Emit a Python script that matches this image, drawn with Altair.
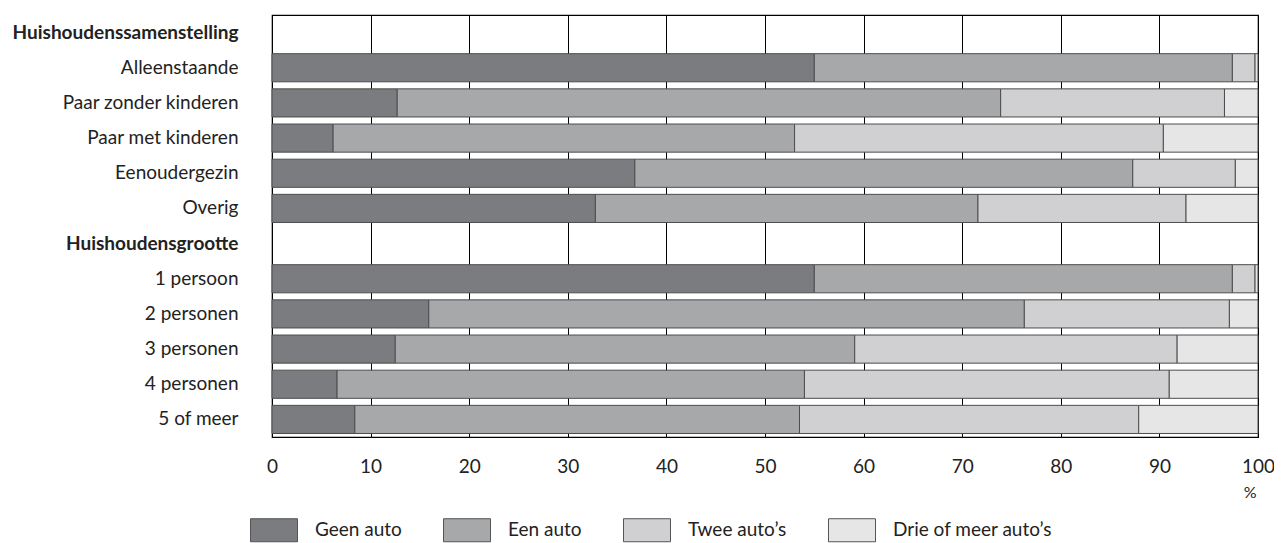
import altair as alt
import pandas as pd

categories = ["Huishoudenssamenstelling", "Alleenstaande", "Paar zonder kinderen",
              "Paar met kinderen", "Eenoudergezin", "Overig", "Huishoudensgrootte",
              "1 persoon", "2 personen", "3 personen", "4 personen", "5 of meer"]
headers = ["Huishoudenssamenstelling", "Huishoudensgrootte"]
series = ["Geen auto", "Een auto", "Twee auto\u2019s", "Drie of meer auto\u2019s"]
colors = ["#7b7c80", "#a7a8aa", "#d0d0d2", "#e6e6e7"]

geen = [55.0, 12.7, 6.2, 36.8, 32.8, 55.0, 15.9, 12.5, 6.6, 8.4]
een = [42.4, 61.2, 46.8, 50.5, 38.8, 42.4, 60.4, 46.6, 47.4, 45.1]
twee = [2.3, 22.7, 37.4, 10.4, 21.1, 2.3, 20.8, 32.7, 37.0, 34.4]
drie = [0.3, 3.4, 9.6, 2.3, 7.3, 0.3, 2.9, 8.2, 9.0, 12.1]

ticks = [0, 10, 20, 30, 40, 50, 60, 70, 80, 90, 100]

data_rows = [c for c in categories if c not in headers]
records = []
for i, cat in enumerate(data_rows):
    for j, (name, vals) in enumerate(zip(series, [geen, een, twee, drie])):
        records.append({"categorie": cat, "reeks": name, "idx": j, "waarde": vals[i]})
df = pd.DataFrame(records)

FONT = "Lato"
FS = 19
bold_expr = ("indexof(['Huishoudenssamenstelling','Huishoudensgrootte'], datum.value) >= 0"
             " ? 'bold' : 'normal'")

chart = alt.Chart(df).mark_bar(stroke="#4d4d4d", strokeWidth=1).encode(
    x=alt.X("waarde:Q", stack="zero",
            scale=alt.Scale(domain=[0, 100], nice=False),
            axis=alt.Axis(values=ticks, grid=True, gridColor="black", gridWidth=1,
                          gridOpacity=1, ticks=False, domain=False, labelPadding=20,
                          labelFlush=False,
                          labelFontSize=FS, labelFont=FONT, labelColor="#222",
                          title="%", titleX=984, titleY=60, titleAlign="right",
                          titleAnchor="end", titleBaseline="alphabetic",
                          titleFontWeight="normal", titleFontSize=16, titleFont=FONT,
                          titleColor="#222")),
    y=alt.Y("categorie:N",
            scale=alt.Scale(domain=categories, paddingInner=0.2, paddingOuter=0.1),
            axis=alt.Axis(title=None, ticks=False, domain=False, grid=False,
                          labelPadding=34, labelFontSize=FS, labelFont=FONT,
                          labelColor="#222", labelLimit=400,
                          labelFontWeight=alt.ExprRef(bold_expr))),
    color=alt.Color("reeks:N", scale=alt.Scale(domain=series, range=colors),
                    legend=alt.Legend(title=None, orient="none", legendX=-22, legendY=491,
                                      direction="horizontal", padding=0,
                                      symbolType="M-1,-0.49H1V0.49H-1Z", symbolSize=2209,
                                      symbolStrokeColor="#555", symbolStrokeWidth=1,
                                      symbolOpacity=1, labelFont=FONT, labelFontSize=FS,
                                      labelColor="#222", labelOffset=17, columnPadding=39,
                                      labelLimit=400)),
    order=alt.Order("idx:Q"),
).properties(
    width=986, height=422,
    autosize=alt.AutoSizeParams(type="none"),
    padding={"left": 264, "top": 7, "right": 16, "bottom": 106},
).configure_view(stroke="black", strokeWidth=1.2)

chart.save("out.html", embed_options={"renderer": "svg", "actions": False})
